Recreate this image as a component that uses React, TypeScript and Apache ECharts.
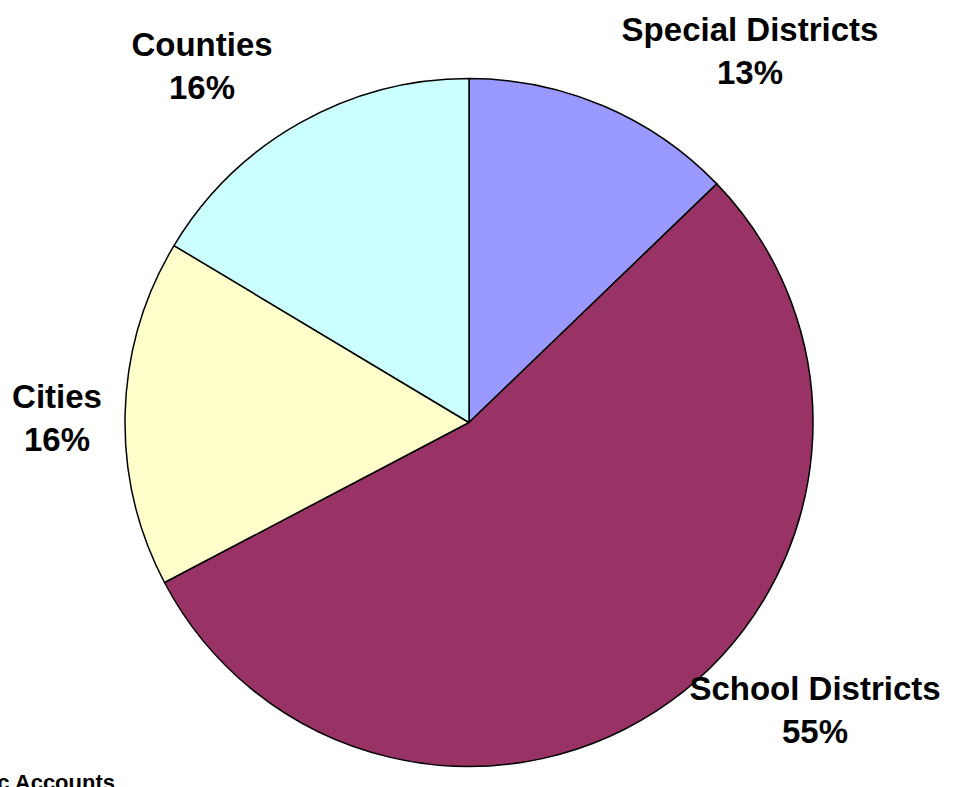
import React, { useEffect, useRef } from "react";
import * as echarts from "echarts";

const categories = ["Special Districts", "School Districts", "Cities", "Counties"];
const shares = [12.8, 54.5, 16.3, 16.4];
const colors = ["#9999FF", "#993366", "#FFFFCC", "#CCFFFF"];
const labelSpots = [
  [750, 51],
  [815, 710],
  [57, 418],
  [202, 66],
];
const sourceNote = "Source: Texas Comptroller of Public Accounts";

export default function App() {
  const ref = useRef<HTMLDivElement>(null);
  useEffect(() => {
    document.body.style.margin = "0";
    const chart = echarts.init(ref.current!, null, { renderer: "svg" });
    chart.setOption({
      animation: false,
      backgroundColor: "#ffffff",
      textStyle: { fontFamily: "Liberation Sans, Arial, sans-serif" },
      series: [
        {
          type: "pie",
          center: [469, 422.5],
          radius: [0, 344],
          startAngle: 90,
          clockwise: true,
          percentPrecision: 0,
          avoidLabelOverlap: false,
          data: categories.map((c, i) => ({
            name: c,
            value: shares[i],
            itemStyle: { color: colors[i] },
          })),
          itemStyle: { borderColor: "#000000", borderWidth: 1.5 },
          label: {
            show: true,
            position: "outside",
            formatter: "{b}\n{d}%",
            fontFamily: "Liberation Sans, Arial, sans-serif",
            fontWeight: "bold",
            fontSize: 33,
            lineHeight: 43,
            color: "#000000",
            align: "center",
          },
          labelLine: { show: false },
          labelLayout: (p: any) => ({
            x: labelSpots[p.dataIndex][0],
            y: labelSpots[p.dataIndex][1],
            align: "center",
            verticalAlign: "middle",
          }),
          emphasis: { disabled: true },
        },
      ],
      graphic: [
        {
          type: "text",
          x: 115,
          y: 771,
          style: {
            text: sourceNote,
            align: "right",
            verticalAlign: "top",
            fontFamily: "Liberation Sans, Arial, sans-serif",
            fontWeight: "bold",
            fontSize: 22,
            fill: "#000000",
          },
        },
      ],
    });
    return () => chart.dispose();
  }, []);
  return <div ref={ref} style={{ width: 965, height: 787 }} />;
}
